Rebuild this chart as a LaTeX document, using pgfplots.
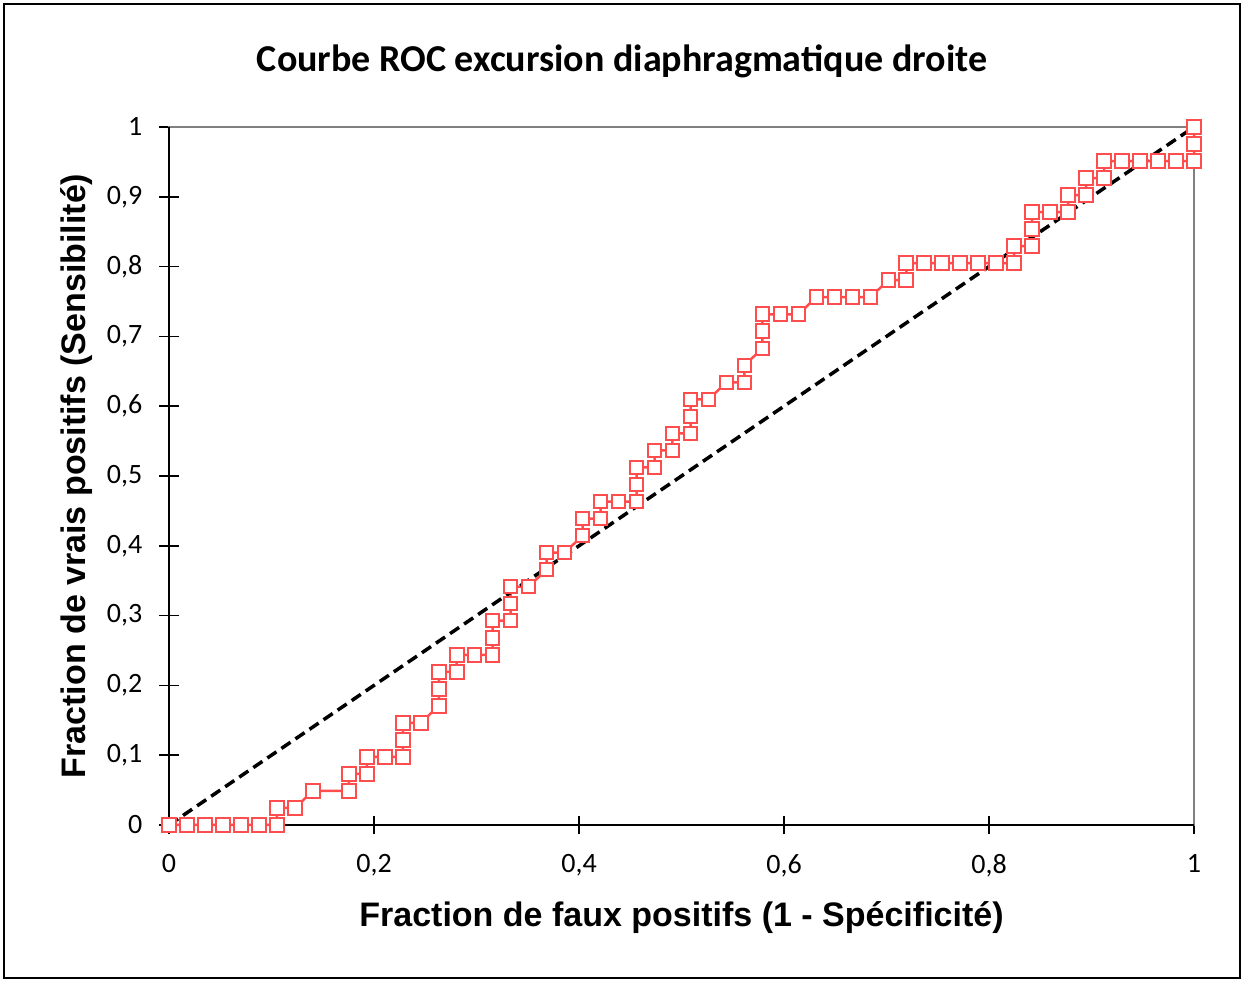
\documentclass[border=0pt]{standalone}
\usepackage{pgfplots}
\pgfplotsset{compat=1.18}
\usepackage{fontspec}
\setmainfont{Carlito}
\newfontfamily\arialfont{Liberation Sans}
\definecolor{rocred}{RGB}{255,77,77}
\definecolor{framegray}{RGB}{128,128,128}
\begin{document}
\begin{tikzpicture}
\begin{axis}[
  scale only axis,
  width=1025pt, height=698pt,
  xmin=0, xmax=1, ymin=0, ymax=1,
  clip=false,
  axis line style={framegray, line width=2pt},
  xtick={0,0.2,0.4,0.6,0.8,1},
  ytick={0,0.1,0.2,0.3,0.4,0.5,0.6,0.7,0.8,0.9,1},
  xtick pos=bottom, ytick pos=left,
  tick align=center,
  major tick length=19pt,
  tick style={black, line width=1.5pt},
  /pgf/number format/use comma,
  /pgf/number format/assume math mode=true,
  tick label style={font=\fontsize{28pt}{32pt}\selectfont},
  xticklabel style={anchor=north, inner sep=0pt, yshift=-20pt},
  yticklabel style={anchor=east, inner sep=0pt, xshift=-17pt},
  title={Courbe ROC excursion diaphragmatique droite},
  title style={font=\fontsize{38pt}{44pt}\selectfont\bfseries, at={(axis description cs:0.442,1.0716)}, anchor=base},
  xlabel={Fraction de faux positifs (1 - Spécificité)},
  xlabel style={font=\arialfont\fontsize{34pt}{40pt}\selectfont\bfseries, at={(axis description cs:0.5,-0.1461)}, anchor=base},
  ylabel={Fraction de vrais positifs (Sensibilité)},
  ylabel style={font=\arialfont\fontsize{34pt}{40pt}\selectfont\bfseries, at={(axis description cs:-0.081,0.5)}, anchor=base},
]
\draw[black, line width=2pt] (rel axis cs:0,1) -- (rel axis cs:0,0) -- (rel axis cs:1,0);
\addplot[rocred, line width=2.5pt, mark=square*, mark size=6.8pt,
  mark options={fill=white, draw=rocred, line width=2pt}] coordinates {
(0,0) (0.0175,0) (0.0351,0) (0.0526,0) (0.0702,0) (0.0877,0) (0.1053,0)
(0.1053,0.0244) (0.1228,0.0244) (0.1404,0.0488) (0.1754,0.0488) (0.1754,0.0732)
(0.1930,0.0732) (0.1930,0.0976) (0.2105,0.0976) (0.2281,0.0976) (0.2281,0.1220)
(0.2281,0.1463) (0.2456,0.1463) (0.2632,0.1707) (0.2632,0.1951) (0.2632,0.2195)
(0.2807,0.2195) (0.2807,0.2439) (0.2982,0.2439) (0.3158,0.2439) (0.3158,0.2683)
(0.3158,0.2927) (0.3333,0.2927) (0.3333,0.3171) (0.3333,0.3415) (0.3509,0.3415)
(0.3684,0.3659) (0.3684,0.3902) (0.3860,0.3902) (0.4035,0.4146) (0.4035,0.4390)
(0.4211,0.4390) (0.4211,0.4634) (0.4386,0.4634) (0.4561,0.4634) (0.4561,0.4878)
(0.4561,0.5122) (0.4737,0.5122) (0.4737,0.5366) (0.4912,0.5366) (0.4912,0.5610)
(0.5088,0.5610) (0.5088,0.5854) (0.5088,0.6098) (0.5263,0.6098) (0.5439,0.6341)
(0.5614,0.6341) (0.5614,0.6585) (0.5789,0.6829) (0.5789,0.7073) (0.5789,0.7317)
(0.5965,0.7317) (0.6140,0.7317) (0.6316,0.7561) (0.6491,0.7561) (0.6667,0.7561)
(0.6842,0.7561) (0.7018,0.7805) (0.7193,0.7805) (0.7193,0.8049) (0.7368,0.8049)
(0.7544,0.8049) (0.7719,0.8049) (0.7895,0.8049) (0.8070,0.8049) (0.8246,0.8049)
(0.8246,0.8293) (0.8421,0.8293) (0.8421,0.8537) (0.8421,0.8780) (0.8596,0.8780)
(0.8772,0.8780) (0.8772,0.9024) (0.8947,0.9024) (0.8947,0.9268) (0.9123,0.9268)
(0.9123,0.9512) (0.9298,0.9512) (0.9474,0.9512) (0.9649,0.9512) (0.9825,0.9512)
(1,0.9512) (1,0.9756) (1,1)
};
\addplot[black, line width=3.5pt, dash pattern=on 11pt off 6pt] coordinates {(0,0) (1,1)};
\end{axis}
\draw[black, line width=2pt] (-165pt,-153pt) rectangle (1071pt,821pt);
\pgfresetboundingbox
\path[use as bounding box] (-169pt,-156pt) rectangle (1075pt,825pt);
\end{tikzpicture}
\end{document}
